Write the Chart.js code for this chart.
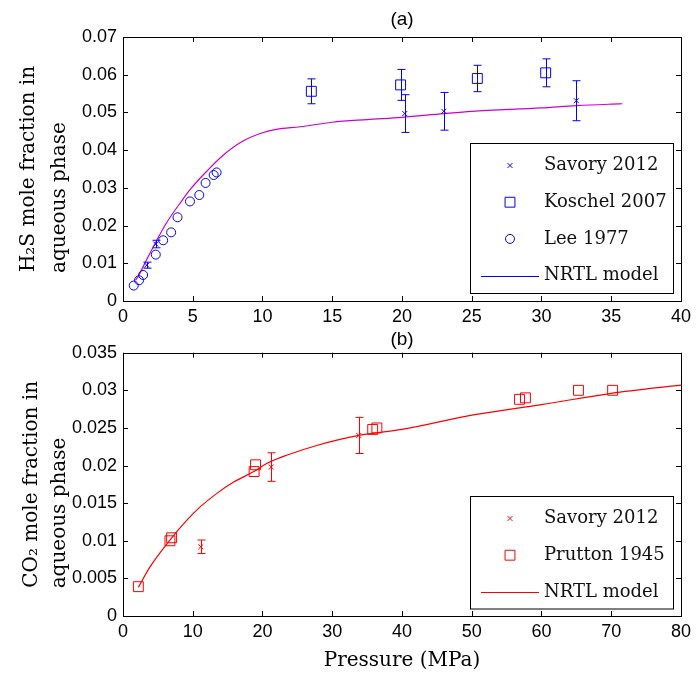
<!DOCTYPE html>
<html>
<head>
<meta charset="utf-8">
<script src="https://cdn.jsdelivr.net/npm/chart.js@4.4.1/dist/chart.umd.min.js"></script>
<style>
body{margin:0;background:#fff;width:696px;height:675px;position:relative;overflow:hidden}
canvas{position:absolute;left:0}
#grafA{top:0}
#grafB{top:320px}
</style>
</head>
<body>
<canvas id="grafA" width="696" height="330"></canvas>
<canvas id="grafB" width="696" height="355"></canvas>
<script>
// panel (a) - H2S
const savoryA_x = [1.7, 2.35, 20.2, 23.0, 32.5];
const savoryA_y = [0.0095, 0.0151, 0.0497, 0.0503, 0.0531];
const savoryA_err = [0.0008, 0.001, 0.005, 0.005, 0.0053];

const koschel_x = [13.5, 19.9, 25.4, 30.3];
const koschel_y = [0.0556, 0.0573, 0.0590, 0.0605];
const koschel_err = [0.0033, 0.0041, 0.0035, 0.0037];

const lee_x = [0.77, 1.15, 1.44, 2.35, 2.88, 3.45, 3.91, 4.80, 5.47, 5.92, 6.50, 6.71];
const lee_y = [0.0041, 0.0055, 0.0069, 0.0123, 0.0161, 0.0182, 0.0222, 0.0264, 0.0281, 0.0313, 0.0334, 0.0341];

const nrtlA_x = [0.9, 1.1, 1.7, 2.35, 3.1, 4.2, 4.85, 6.0, 7.1, 8.6, 10, 11, 12.7, 15, 17.5, 20, 23, 25, 30, 32.5, 35, 35.8];
const nrtlA_y = [0.0055, 0.0066, 0.011, 0.0156, 0.0206, 0.0265, 0.0297, 0.0344, 0.0384, 0.0424, 0.0446, 0.0455, 0.0462, 0.0474, 0.0481, 0.0487, 0.0497, 0.0503, 0.0512, 0.0518, 0.0522, 0.0523];

// panel (b) - CO2
const savoryB_x = [11.15, 21.25, 33.8];
const savoryB_y = [0.0092, 0.0198, 0.0240];
const savoryB_err = [0.0009, 0.0019, 0.0024];

const prutton_x = [2.2, 6.73, 6.97, 18.8, 19.0, 35.8, 36.4, 56.85, 57.7, 65.3, 70.2];
const prutton_y = [0.0039, 0.0100, 0.0104, 0.0192, 0.0201, 0.0248, 0.0250, 0.0288, 0.0290, 0.0300, 0.0300];

const nrtlB_x = [2.2, 3.85, 6.73, 9.13, 11.06, 13.46, 15.87, 18.75, 20.67, 23.56, 27.9, 33.8, 40, 50, 60, 70, 80];
const nrtlB_y = [0.0038, 0.0065, 0.0101, 0.0127, 0.0145, 0.0163, 0.0178, 0.0192, 0.0203, 0.0214, 0.0227, 0.0240, 0.0248, 0.0267, 0.0281, 0.0296, 0.0307];

const ticksA_y = [0, 0.01, 0.02, 0.03, 0.04, 0.05, 0.06, 0.07];
const ticksB_y = [0, 0.005, 0.01, 0.015, 0.02, 0.025, 0.03, 0.035];

const AZUL = '#0000ff';
const MAGENTA = '#cc00cc';
const ROJO = '#ff0000';
const SANS = '"Liberation Sans", Arial, sans-serif';
const SERIF = '"DejaVu Serif", serif';

function puntos(xs, ys){
	let p = new Array();
	for(let i in xs){
		p.push({x: xs[i], y: ys[i]});
	}
	return p;
}

// frame + inward ticks, matlab style
const marco = {
	id: 'marco',
	afterDatasetsDraw(chart){
		const ctx = chart.ctx, a = chart.chartArea;
		const sx = chart.scales.x, sy = chart.scales.y;
		ctx.save();
		ctx.strokeStyle = '#000';
		ctx.lineWidth = 1;
		ctx.beginPath();
		sx.ticks.forEach(function(t){
			let px = Math.round(sx.getPixelForValue(t.value)) + 0.5;
			ctx.moveTo(px, a.bottom); ctx.lineTo(px, a.bottom - 5);
			ctx.moveTo(px, a.top); ctx.lineTo(px, a.top + 5);
		});
		sy.ticks.forEach(function(t){
			let py = Math.round(sy.getPixelForValue(t.value)) + 0.5;
			ctx.moveTo(a.left, py); ctx.lineTo(a.left + 5, py);
			ctx.moveTo(a.right, py); ctx.lineTo(a.right - 5, py);
		});
		ctx.stroke();
		ctx.strokeRect(Math.round(a.left) + 0.5, Math.round(a.top) + 0.5, Math.round(a.right - a.left), Math.round(a.bottom - a.top));
		ctx.restore();
	}
};

const barras = {
	id: 'barras',
	afterDatasetsDraw(chart){
		const ctx = chart.ctx;
		const sx = chart.scales.x, sy = chart.scales.y;
		ctx.save();
		chart.data.datasets.forEach(function(d){
			if(!d.errores) return;
			ctx.strokeStyle = d.borderColor;
			ctx.lineWidth = 1;
			ctx.beginPath();
			d.data.forEach(function(p, i){
				let px = Math.round(sx.getPixelForValue(p.x)) + 0.5;
				let y1 = sy.getPixelForValue(p.y + d.errores[i]);
				let y2 = sy.getPixelForValue(p.y - d.errores[i]);
				ctx.moveTo(px, y1); ctx.lineTo(px, y2);
				ctx.moveTo(px - 4, y1); ctx.lineTo(px + 4, y1);
				ctx.moveTo(px - 4, y2); ctx.lineTo(px + 4, y2);
			});
			ctx.stroke();
		});
		ctx.restore();
	}
};

const leyenda = {
	id: 'leyenda',
	afterDraw(chart){
		const ctx = chart.ctx, a = chart.chartArea;
		const ds = chart.data.datasets;
		const w = 203, fila = 36.7, h = ds.length * 37.5;
		const x0 = Math.round(a.right - 8 - w), y0 = Math.round(a.bottom - 8 - h);
		ctx.save();
		ctx.fillStyle = '#fff';
		ctx.fillRect(x0, y0, w, h);
		ctx.strokeStyle = '#000';
		ctx.lineWidth = 1;
		ctx.strokeRect(x0 + 0.5, y0 + 0.5, w, h);
		ds.forEach(function(d, i){
			let cy = y0 + 22.5 + i * fila;
			let col = d.legendColor || d.borderColor;
			ctx.strokeStyle = col;
			ctx.lineWidth = 1;
			if(d.showLine){
				ctx.beginPath();
				ctx.moveTo(x0 + 11, Math.round(cy) + 0.5);
				ctx.lineTo(x0 + 69, Math.round(cy) + 0.5);
				ctx.stroke();
			} else {
				ctx.fillStyle = 'rgba(0,0,0,0)';
				Chart.helpers.drawPoint(ctx, {pointStyle: d.pointStyle, radius: d.pointRadius, borderWidth: 1, rotation: 0}, x0 + 40, cy);
			}
			ctx.fillStyle = '#111';
			ctx.font = '18px ' + SERIF;
			ctx.textBaseline = 'middle';
			ctx.textAlign = 'left';
			ctx.fillText(d.label, x0 + 74, cy);
		});
		ctx.restore();
	}
};

function opciones(cfg){
	return {
		responsive: false,
		animation: false,
		devicePixelRatio: 1,
		layout: {padding: {left: 0, right: 15, top: 0, bottom: 0}},
		plugins: {
			legend: {display: false},
			tooltip: {enabled: false},
			title: {
				display: true,
				text: cfg.titulo,
				fullSize: false,
				color: '#000',
				font: {family: SANS, size: 19, weight: 'normal', lineHeight: 1.2},
				padding: cfg.padTitulo
			}
		},
		scales: {
			x: {
				type: 'linear',
				min: 0, max: cfg.xmax,
				grid: {display: false, drawTicks: false},
				border: {display: false},
				ticks: {stepSize: cfg.xstep, color: '#000', padding: 5, maxRotation: 0, font: {family: SANS, size: 18}},
				title: cfg.xtitulo,
				afterFit: function(s){ s.height = cfg.altoX; }
			},
			y: {
				type: 'linear',
				min: 0, max: cfg.yticks[cfg.yticks.length - 1],
				grid: {display: false, drawTicks: false},
				border: {display: false},
				afterBuildTicks: function(s){ s.ticks = cfg.yticks.map(function(v){ return {value: v}; }); },
				ticks: {
					color: '#000', padding: 6, font: {family: SANS, size: 18},
					callback: function(v){ return String(+Number(v).toFixed(3)); }
				},
				title: {
					display: true,
					text: cfg.ytitulo,
					color: '#000',
					font: {family: SERIF, size: 20, lineHeight: cfg.lhY},
					padding: {top: cfg.padY, bottom: 0}
				},
				afterFit: function(s){ s.width = 123; }
			}
		}
	};
}

var chartA = new Chart(document.getElementById('grafA').getContext('2d'), {
	type: 'scatter',
	data: {
		datasets: [
			{label: 'Savory 2012', data: puntos(savoryA_x, savoryA_y), errores: savoryA_err, pointStyle: 'crossRot', pointRadius: 3.5, borderColor: AZUL, backgroundColor: 'rgba(0,0,0,0)', borderWidth: 1},
			{label: 'Koschel 2007', data: puntos(koschel_x, koschel_y), errores: koschel_err, pointStyle: 'rect', pointRadius: 7, borderColor: AZUL, backgroundColor: 'rgba(0,0,0,0)', borderWidth: 1},
			{label: 'Lee 1977', data: puntos(lee_x, lee_y), pointStyle: 'circle', pointRadius: 4.5, borderColor: AZUL, backgroundColor: 'rgba(0,0,0,0)', borderWidth: 1},
			{label: 'NRTL model', data: puntos(nrtlA_x, nrtlA_y), showLine: true, pointRadius: 0, borderColor: MAGENTA, legendColor: AZUL, borderWidth: 1.2, cubicInterpolationMode: 'monotone'}
		]
	},
	options: opciones({
		titulo: '(a)', padTitulo: {top: 8, bottom: 6.2},
		xmax: 40, xstep: 5, xtitulo: {display: false}, altoX: 29,
		yticks: ticksA_y,
		ytitulo: ['H\u2082S mole fraction in', 'aqueous phase         '],
		lhY: 1.55, padY: 13.5
	}),
	plugins: [barras, marco, leyenda]
});

var chartB = new Chart(document.getElementById('grafB').getContext('2d'), {
	type: 'scatter',
	data: {
		datasets: [
			{label: 'Savory 2012', data: puntos(savoryB_x, savoryB_y), errores: savoryB_err, pointStyle: 'crossRot', pointRadius: 3.5, borderColor: ROJO, backgroundColor: 'rgba(0,0,0,0)', borderWidth: 1},
			{label: 'Prutton 1945', data: puntos(prutton_x, prutton_y), pointStyle: 'rect', pointRadius: 7, borderColor: ROJO, backgroundColor: 'rgba(0,0,0,0)', borderWidth: 1},
			{label: 'NRTL model', data: puntos(nrtlB_x, nrtlB_y), showLine: true, pointRadius: 0, borderColor: ROJO, borderWidth: 1.2, cubicInterpolationMode: 'monotone'}
		]
	},
	options: opciones({
		titulo: '(b)', padTitulo: {top: 8.5, bottom: 1.4},
		xmax: 80, xstep: 10,
		xtitulo: {display: true, text: 'Pressure (MPa)', color: '#000', font: {family: SERIF, size: 20, lineHeight: 1.2}, padding: {top: 0, bottom: 2}},
		altoX: 59,
		yticks: ticksB_y,
		ytitulo: ['CO\u2082 mole fraction in', 'aqueous phase         '],
		lhY: 1.4, padY: 18
	}),
	plugins: [barras, marco, leyenda]
});
</script>
</body>
</html>
